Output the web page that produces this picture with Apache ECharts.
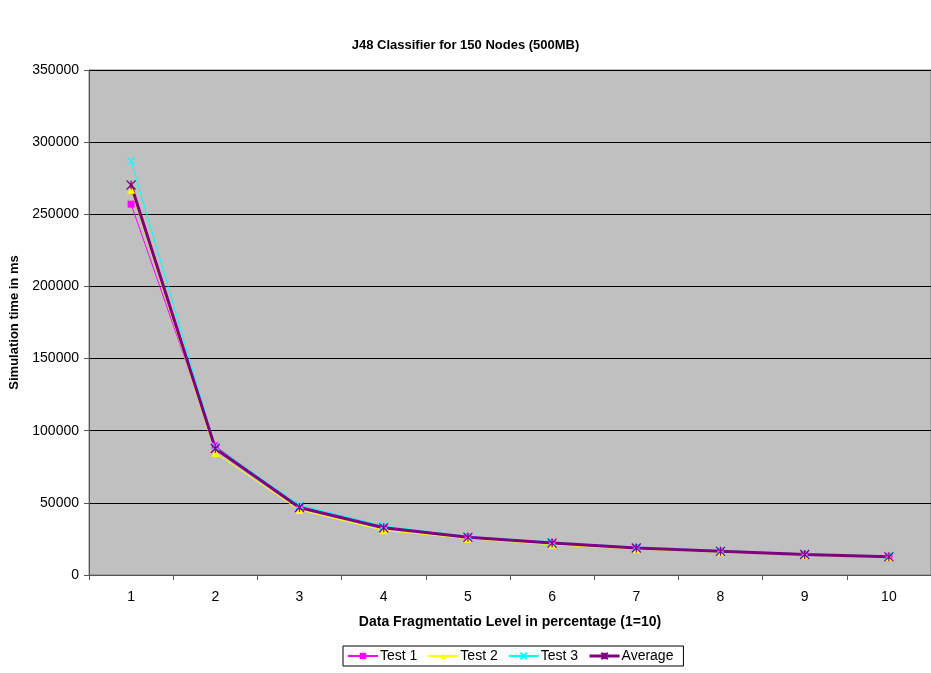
<!DOCTYPE html>
<html>
<head>
<meta charset="utf-8">
<script src="https://cdn.jsdelivr.net/npm/echarts@6/dist/echarts.min.js"></script>
<style>
html,body{margin:0;padding:0;background:#fff;}
#chart{width:931px;height:673px;}
</style>
</head>
<body>
<div id="chart"></div>
<script>
var categories = ['1','2','3','4','5','6','7','8','9','10'];
var test1 = [257000, 89500, 47000, 33000, 26300, 22300, 18800, 16400, 14200, 12600];
var test2 = [267000, 84500, 45000, 31000, 25200, 21000, 17900, 15700, 13800, 12300];
var test3 = [287000, 89000, 48500, 34000, 26800, 22900, 19300, 17000, 14700, 13000];
var average = [270300, 87700, 46800, 32700, 26100, 22100, 18700, 16400, 14200, 12600];
var yTicks = {min: 0, max: 350000, interval: 50000};

var fontFam = '"Liberation Sans", Arial, sans-serif';
var xPath = 'path://M0,0L10,10M10,0L0,10';
var starPath = 'path://M0,0L10,10M10,0L0,10M5,0L5,10';

var chart = echarts.init(document.getElementById('chart'));
chart.setOption({
  backgroundColor: '#ffffff',
  animation: false,
  title: {
    text: 'J48 Classifier for 150 Nodes (500MB)',
    left: 'center',
    top: 34,
    textStyle: {fontFamily: fontFam, fontSize: 13, fontWeight: 'bold', color: '#000'}
  },
  legend: {
    left: 343,
    top: 646,
    itemGap: 10,
    itemWidth: 30,
    itemHeight: 8,
    padding: [3, 10, 3, 4],
    borderColor: '#000',
    borderWidth: 1,
    textStyle: {fontFamily: fontFam, fontSize: 14, color: '#000', padding: [0, 0, 0, -3]},
    data: [
      {name: 'Test 1'},
      {name: 'Test 2'},
      {name: 'Test 3'},
      {name: 'Average', lineStyle: {width: 3, color: '#800080'}}
    ]
  },
  grid: {
    left: 89, right: 0, top: 70, bottom: 98,
    outerBoundsMode: 'none',
    containLabel: false,
    show: true,
    backgroundColor: '#c0c0c0',
    borderColor: '#808080',
    borderWidth: 1
  },
  xAxis: {
    type: 'category',
    data: categories,
    boundaryGap: true,
    name: 'Data Fragmentatio Level in percentage (1=10)',
    nameLocation: 'middle',
    nameGap: 40,
    nameTextStyle: {fontFamily: fontFam, fontSize: 14, fontWeight: 'bold', color: '#000'},
    axisLine: {lineStyle: {color: '#555', width: 1}},
    axisTick: {show: true, length: 5, alignWithLabel: false, lineStyle: {color: '#555'}},
    axisLabel: {fontFamily: fontFam, fontSize: 14, color: '#000', margin: 15},
    splitLine: {show: false}
  },
  yAxis: {
    type: 'value',
    min: yTicks.min,
    max: yTicks.max,
    interval: yTicks.interval,
    name: 'Simulation time in ms',
    nameLocation: 'middle',
    nameRotate: 90,
    nameGap: 61,
    nameTextStyle: {fontFamily: fontFam, fontSize: 13, fontWeight: 'bold', color: '#000'},
    axisLine: {show: true, lineStyle: {color: '#555', width: 1}},
    axisTick: {show: true, length: 5, lineStyle: {color: '#555'}},
    axisLabel: {fontFamily: fontFam, fontSize: 14, color: '#000', margin: 10,
      formatter: function (v) { return String(v); }},
    splitLine: {show: true, lineStyle: {color: '#000', width: 1}}
  },
  series: [
    {
      name: 'Test 1', type: 'line', data: test1,
      symbol: 'rect', symbolSize: 7,
      lineStyle: {color: '#ff00ff', width: 1},
      itemStyle: {color: '#ff00ff'}
    },
    {
      name: 'Test 2', type: 'line', data: test2,
      symbol: 'triangle', symbolSize: 8,
      lineStyle: {color: '#ffff00', width: 1},
      itemStyle: {color: '#ffff00'}
    },
    {
      name: 'Test 3', type: 'line', data: test3,
      symbol: xPath, symbolSize: 8,
      lineStyle: {color: '#00ffff', width: 1},
      itemStyle: {color: 'none', borderColor: '#00ffff', borderWidth: 1.2}
    },
    {
      name: 'Average', type: 'line', data: average,
      symbol: starPath, symbolSize: 9,
      lineStyle: {color: '#800080', width: 3},
      itemStyle: {color: 'none', borderColor: '#800080', borderWidth: 1.2}
    }
  ]
});
</script>
</body>
</html>
